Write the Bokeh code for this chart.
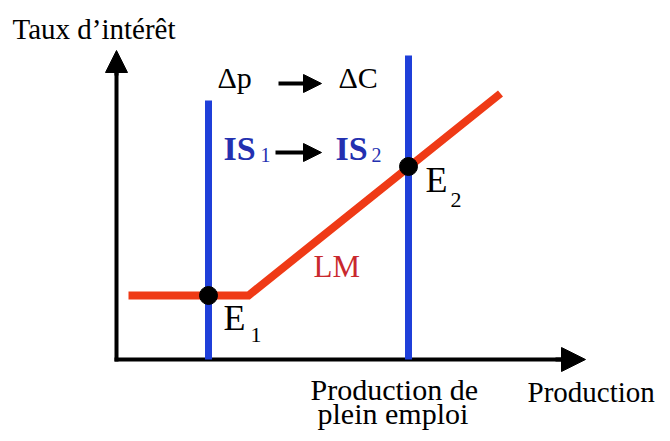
from bokeh.plotting import figure
from bokeh.models import Range1d, Arrow, NormalHead, Label
from bokeh.embed import file_html
from bokeh.resources import INLINE

# ---- diagram data (economic coordinates: production on x, interest rate on y) ----
lm_x = [12, 132, 384]          # LM curve: flat trap segment, then rising
lm_y = [64, 64, 266]
is1_x = [92, 92]                # IS1 vertical
is1_y = [0, 259]
is2_x = [292, 292]              # IS2 vertical (full-employment output)
is2_y = [0, 304]
eq_x = [92, 292]                # equilibria E1, E2
eq_y = [64, 193]
eq_names = ["E", "E"]
eq_subs = ["1", "2"]
axis_x_end = 469
axis_y_end = 309

SERIF = "Liberation Serif"
BLUE = "#1f3fd9"
RED = "#ef3a16"

p = figure(width=660, height=431, output_backend="svg", toolbar_location=None,
           x_range=Range1d(-116, 544), y_range=Range1d(-72, 359),
           min_border=0, x_axis_type=None, y_axis_type=None)
p.grid.visible = False
p.outline_line_color = None
p.background_fill_color = "white"
p.border_fill_color = "white"

# axes with arrow heads
p.line([0, 0], [-2, axis_y_end - 10], line_color="black", line_width=4)
p.line([-2, axis_x_end - 10], [0, 0], line_color="black", line_width=4)
p.add_layout(Arrow(end=NormalHead(size=22, fill_color="black", line_color="black", line_width=1),
                   x_start=0, y_start=axis_y_end - 25, x_end=0, y_end=axis_y_end,
                   line_width=4, line_color="black"))
p.add_layout(Arrow(end=NormalHead(size=24, fill_color="black", line_color="black", line_width=1),
                   x_start=axis_x_end - 30, y_start=0, x_end=axis_x_end, y_end=0,
                   line_width=4, line_color="black"))

# IS curves
p.line(is1_x, is1_y, line_color=BLUE, line_width=7)
p.line(is2_x, is2_y, line_color=BLUE, line_width=7)

# LM curve
p.line(lm_x, lm_y, line_color=RED, line_width=8, line_join="miter")

# equilibrium points
p.scatter(eq_x, eq_y, size=18, fill_color="black", line_color="black")

def lab(x, y, t, size, color="black", style="normal"):
    # y is the wanted baseline; compensate the renderer's baseline offset
    p.add_layout(Label(x=x, y=y + 0.36 * size, text=t, text_font=SERIF,
                       text_font_size=f"{size}px", text_color=color,
                       text_font_style=style, text_align="left",
                       text_baseline="alphabetic"))

# axis titles
lab(-104, 320, "Taux d\u2019intérêt", 29)
lab(411, -43, "Production", 29)
lab(194, -41, "Production de", 30)
lab(201, -65, "plein emploi", 30)

# Δp → ΔC
lab(101, 271, "\u0394p", 30)
lab(222, 271, "\u0394C", 30)
p.add_layout(Arrow(end=NormalHead(size=18, fill_color="black", line_color="black", line_width=1),
                   x_start=162, y_start=276, x_end=205, y_end=276,
                   line_width=4, line_color="black"))

# IS1 → IS2
ISC = "#2330b0"
lab(107, 199, "IS", 34, ISC, "bold")
lab(144, 197, "1", 20, ISC)
lab(219, 199, "IS", 34, ISC, "bold")
lab(255, 197, "2", 20, ISC)
p.add_layout(Arrow(end=NormalHead(size=18, fill_color="black", line_color="black", line_width=1),
                   x_start=159, y_start=207, x_end=205, y_end=207,
                   line_width=4, line_color="black"))

# LM label
lab(197, 82, "LM", 31, "#c9282d")

# equilibrium labels
lab(eq_x[0] + 15, 29, eq_names[0], 36)
lab(eq_x[0] + 42, 17, eq_subs[0], 22)
lab(eq_x[1] + 17, 167, eq_names[1], 36)
lab(eq_x[1] + 42, 152, eq_subs[1], 22)

open("out.html", "w").write(file_html(p, INLINE))
